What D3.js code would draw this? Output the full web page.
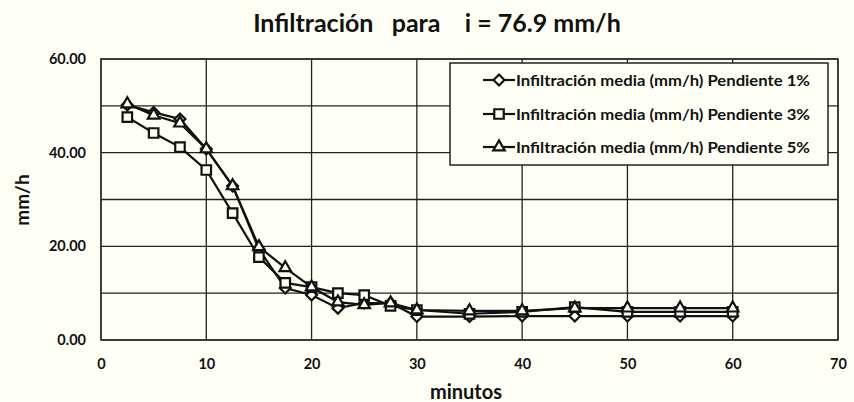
<!DOCTYPE html>
<html>
<head>
<meta charset="utf-8">
<script src="https://cdn.jsdelivr.net/npm/d3@7"></script>
<style>
  body { margin: 0; background: #fffff5; }
  text { font-family: Lato, "Open Sans", sans-serif; font-weight: bold; fill: #111; }
</style>
</head>
<body>
<div id="chart"></div>
<script>
// minutes
const minutos = [2.5, 5, 7.5, 10, 12.5, 15, 17.5, 20, 22.5, 25, 27.5, 30, 35, 40, 45, 50, 55, 60];

// infiltracion media (mm/h)
const pend1 = [50.2, 48.6, 47.2, 40.8, 32.9, 19.4, 11.1, 9.6, 6.8, 7.9, 7.9, 5.0, 5.0, 5.1, 5.1, 5.1, 5.1, 5.1];
const pend3 = [47.6, 44.2, 41.2, 36.3, 27.1, 17.7, 12.2, 11.3, 10.0, 9.6, 7.3, 6.4, 5.6, 6.0, 7.0, 6.0, 6.0, 6.0];
const pend5 = [50.4, 48.0, 46.3, 40.8, 32.9, 19.9, 15.4, 11.3, 8.1, 7.5, 7.9, 6.4, 6.2, 6.2, 6.8, 6.8, 6.8, 6.8];

const seriesNames = [
    "Infiltración media (mm/h) Pendiente 1%",
    "Infiltración media (mm/h) Pendiente 3%",
    "Infiltración media (mm/h) Pendiente 5%",
];
const seriesData = [pend1, pend3, pend5];
const symbols = [d3.symbolDiamond2, d3.symbolSquare2, d3.symbolTriangle2];
const symbolSizes = [75, 115, 95];

const xTicks = [0, 10, 20, 30, 40, 50, 60, 70];
const yTicks = [0, 20, 40, 60];
const yGrid = [0, 10, 20, 30, 40, 50, 60];

const bg = "#fffff5";
const width = 854, height = 402;
const plot = {left: 101, right: 838, top: 59, bottom: 340};

function main() {
    const svg = d3.select("#chart")
        .append("svg")
        .attr("width", width)
        .attr("height", height)
        .style("background", bg);

    const x = d3.scaleLinear().domain([0, 70]).range([plot.left, plot.right]);
    const y = d3.scaleLinear().domain([0, 60]).range([plot.bottom, plot.top]);

    // gridlines
    svg.append("g")
        .selectAll("line")
        .data(xTicks)
        .enter()
        .append("line")
        .attr("x1", d => x(d)).attr("x2", d => x(d))
        .attr("y1", plot.top).attr("y2", plot.bottom)
        .attr("stroke", "#222")
        .attr("stroke-width", 1.3);

    svg.append("g")
        .selectAll("line")
        .data(yGrid)
        .enter()
        .append("line")
        .attr("x1", plot.left).attr("x2", plot.right)
        .attr("y1", d => y(d)).attr("y2", d => y(d))
        .attr("stroke", "#222")
        .attr("stroke-width", 1.3);

    svg.append("rect")
        .attr("x", plot.left).attr("y", plot.top)
        .attr("width", plot.right - plot.left)
        .attr("height", plot.bottom - plot.top)
        .attr("fill", "none")
        .attr("stroke", "#333")
        .attr("stroke-width", 1.6);

    // axes (labels only)
    const xAxis = svg.append("g")
        .attr("transform", `translate(0, ${plot.bottom})`)
        .call(d3.axisBottom(x).tickValues(xTicks).tickSize(0).tickPadding(19));
    xAxis.select(".domain").remove();
    xAxis.selectAll("text").style("font-size", "14.5px").style("font-family", null);

    const yAxis = svg.append("g")
        .attr("transform", `translate(${plot.left}, 0)`)
        .call(d3.axisLeft(y).tickValues(yTicks).tickSize(0).tickPadding(15)
            .tickFormat(d3.format(".2f")));
    yAxis.select(".domain").remove();
    yAxis.selectAll("text").style("font-size", "14.5px").style("font-family", null);

    // series
    const line = d3.line()
        .x((d, i) => x(minutos[i]))
        .y(d => y(d));

    seriesData.forEach((vals, s) => {
        const g = svg.append("g");
        g.append("path")
            .datum(vals)
            .attr("d", line)
            .attr("fill", "none")
            .attr("stroke", "#111")
            .attr("stroke-width", 2.2);
        g.selectAll("path.mk")
            .data(vals)
            .enter()
            .append("path")
            .attr("class", "mk")
            .attr("d", d3.symbol().type(symbols[s]).size(symbolSizes[s]))
            .attr("transform", (d, i) => `translate(${x(minutos[i])}, ${y(d)})`)
            .attr("fill", bg)
            .attr("stroke", "#111")
            .attr("stroke-width", 2.2);
    });

    // legend
    const legend = svg.append("g");
    legend.append("rect")
        .attr("x", 450).attr("y", 63)
        .attr("width", 378).attr("height", 102)
        .attr("fill", bg)
        .attr("stroke", "#222")
        .attr("stroke-width", 1.5);

    const rowY = [80, 114, 147];
    seriesNames.forEach((name, s) => {
        legend.append("line")
            .attr("x1", 483).attr("x2", 515)
            .attr("y1", rowY[s]).attr("y2", rowY[s])
            .attr("stroke", "#111").attr("stroke-width", 2.2);
        legend.append("path")
            .attr("d", d3.symbol().type(symbols[s]).size(symbolSizes[s]))
            .attr("transform", `translate(499, ${rowY[s]})`)
            .attr("fill", bg)
            .attr("stroke", "#111")
            .attr("stroke-width", 2.2);
        legend.append("text")
            .attr("x", 516)
            .attr("y", rowY[s])
            .attr("dy", "0.35em")
            .attr("textLength", 294)
            .attr("lengthAdjust", "spacingAndGlyphs")
            .style("font-size", "16px")
            .text(name);
    });

    // titles
    svg.append("text")
        .attr("x", 437).attr("y", 23)
        .attr("text-anchor", "middle")
        .attr("dy", "0.35em")
        .style("font-size", "25px")
        .attr("xml:space", "preserve")
        .text("Infiltración   para    i = 76.9 mm/h");

    svg.append("text")
        .attr("x", 466).attr("y", 392)
        .attr("text-anchor", "middle")
        .attr("dy", "0.35em")
        .style("font-size", "20px")
        .text("minutos");

    svg.append("text")
        .attr("transform", "translate(22, 200) rotate(-90)")
        .attr("text-anchor", "middle")
        .attr("dy", "0.35em")
        .style("font-size", "19px")
        .text("mm/h");
}

main();
</script>
</body>
</html>
